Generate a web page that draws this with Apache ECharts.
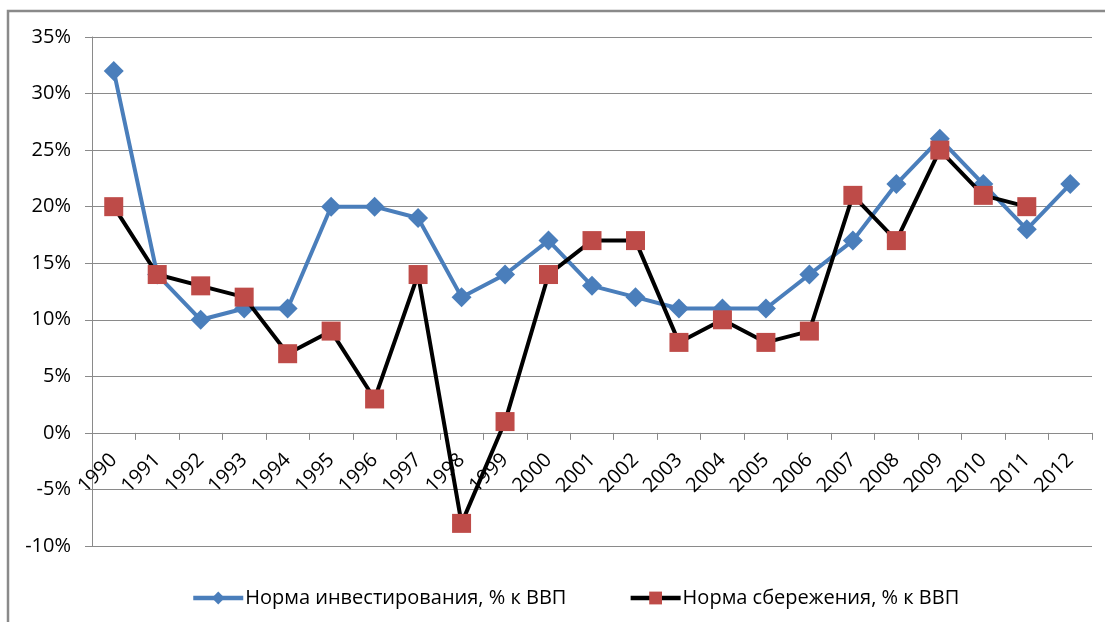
<!DOCTYPE html>
<html><head><meta charset="utf-8">
<script src="https://cdn.jsdelivr.net/npm/echarts@6/dist/echarts.min.js"></script>
<style>html,body{margin:0;padding:0;background:#fff}#c{width:1105px;height:622px}</style>
</head><body><div id="c"></div>
<script>
var years = ['1990','1991','1992','1993','1994','1995','1996','1997','1998','1999','2000','2001','2002','2003','2004','2005','2006','2007','2008','2009','2010','2011','2012'];
var investment = [32,14,10,11,11,20,20,19,12,14,17,13,12,11,11,11,14,17,22,26,22,18,22];
var savings = [20,14,13,12,7,9,3,14,-8,1,14,17,17,8,10,8,9,21,17,25,21,20,null];
var seriesNames = ['Норма инвестирования, % к ВВП','Норма сбережения, % к ВВП'];

var chart = echarts.init(document.getElementById('c'), null, {renderer:'canvas'});
var font = 'Open Sans';
var gridTop = 37, gridBottom = 76, H = 622;
var plotH = H - gridTop - gridBottom;
var zeroOffset = plotH * 10 / 45;
chart.setOption({
  animation:false,
  backgroundColor:'#fff',
  graphic:[{type:'rect', shape:{x:8,y:11,width:1200,height:700}, style:{fill:'none', stroke:'#8a8a8a', lineWidth:2.5}, silent:true}],
  grid:{left:92, right:13, top:gridTop, bottom:gridBottom, containLabel:false},
  legend:{top:583, left:186, itemWidth:50, itemHeight:16, itemGap:62,
    lineStyle:{width:4.5},
    textStyle:{fontFamily:font, fontSize:20, color:'#000', padding:[0,0,0,-3]},
    data:seriesNames},
  xAxis:{type:'category', data:years, boundaryGap:true, position:'bottom', offset:-zeroOffset,
    axisLine:{onZero:false, lineStyle:{color:'#8a8a8a', width:1}},
    axisTick:{show:true, length:7, lineStyle:{color:'#8a8a8a'}},
    axisLabel:{rotate:45, margin:24, interval:0, fontFamily:font, fontSize:20, color:'#000'},
    splitLine:{show:false}},
  yAxis:{type:'value', min:-10, max:35, interval:5,
    axisLine:{show:true, lineStyle:{color:'#8a8a8a', width:1}},
    axisTick:{show:true, length:7, lineStyle:{color:'#8a8a8a'}},
    axisLabel:{formatter:'{value}%', margin:21, fontFamily:font, fontSize:20, color:'#000'},
    splitLine:{show:true, lineStyle:{color:'#8a8a8a', width:1}}},
  series:[
    {name:seriesNames[0], type:'line', data:investment, symbol:'diamond', symbolSize:20,
      lineStyle:{color:'#4a7ebb', width:4}, itemStyle:{color:'#4a7ebb'}, z:2},
    {name:seriesNames[1], type:'line', data:savings, symbol:'rect', symbolSize:19,
      lineStyle:{color:'#000', width:4}, itemStyle:{color:'#be4b48'}, z:3}
  ]
});
</script></body></html>
